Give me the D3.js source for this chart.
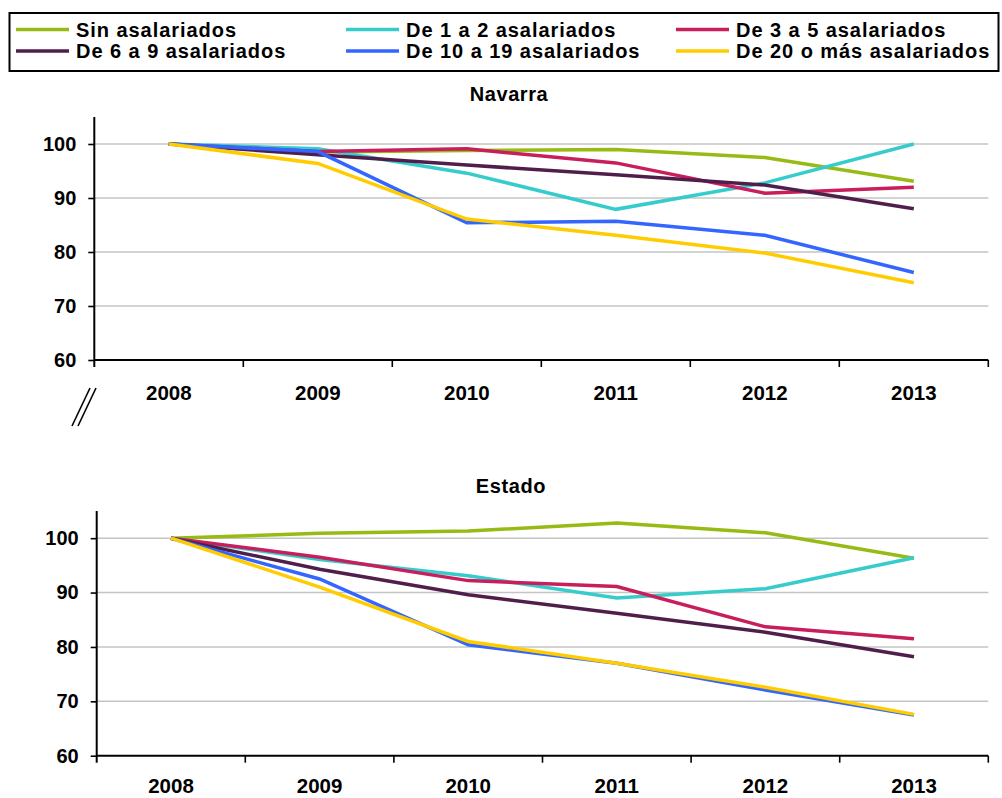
<!DOCTYPE html>
<html>
<head>
<meta charset="utf-8">
<script src="https://cdn.jsdelivr.net/npm/d3@7"></script>
<style>
  html, body { margin: 0; padding: 0; background: #ffffff; }
  svg { display: block; font-family: "Liberation Sans", Arial, sans-serif; font-weight: bold; }
</style>
</head>
<body>
<svg id="chart" width="1002" height="798"></svg>
<script>
// ---- data ----
const years = ["2008", "2009", "2010", "2011", "2012", "2013"];
const seriesNames = ["Sin asalariados", "De 1 a 2 asalariados", "De 3 a 5 asalariados",
                     "De 6 a 9 asalariados", "De 10 a 19 asalariados", "De 20 o más asalariados"];
const yTicks = [60, 70, 80, 90, 100];

// Navarra (índice 2008 = 100)
const navarraSin   = [100, 98.5, 98.8, 99.0, 97.5, 93.1];
const navarra1a2   = [100, 99.1, 94.6, 87.9, 92.8, 100.0];
const navarra3a5   = [100, 98.6, 99.1, 96.5, 90.9, 92.0];
const navarra6a9   = [100, 98.0, 96.1, 94.3, 92.4, 88.0];
const navarra10a19 = [100, 98.6, 85.4, 85.7, 83.1, 76.2];
const navarra20mas = [100, 96.4, 86.1, 83.1, 79.8, 74.3];

// Estado (índice 2008 = 100)
const estadoSin   = [100, 100.9, 101.3, 102.8, 101.0, 96.3];
const estado1a2   = [100, 96.1, 93.1, 89.0, 90.7, 96.4];
const estado3a5   = [100, 96.5, 92.2, 91.1, 83.7, 81.5];
const estado6a9   = [100, 94.3, 89.6, 86.2, 82.7, 78.2];
const estado10a19 = [100, 92.5, 80.4, 77.0, 72.1, 67.5];
const estado20mas = [100, 91.0, 81.0, 77.0, 72.6, 67.6];

const colors = ["#97bb14", "#36cccc", "#c81e5c", "#4f1e4b", "#3366ff", "#ffcc00"];

// ---- drawing ----
const svg = d3.select("#chart");

// Legend
const legend = svg.append("g");
legend.append("rect")
  .attr("x", 9.5).attr("y", 13).attr("width", 989).attr("height", 58)
  .attr("fill", "none").attr("stroke", "#000").attr("stroke-width", 2);
const legCols = [16, 346, 676];
const legRows = [29.5, 51];
seriesNames.forEach((name, i) => {
  const cx = legCols[i % 3], cy = legRows[Math.floor(i / 3)];
  legend.append("line")
    .attr("x1", cx).attr("x2", cx + 53).attr("y1", cy).attr("y2", cy)
    .attr("stroke", colors[i]).attr("stroke-width", 3.5);
  legend.append("text")
    .attr("x", cx + 60).attr("y", cy + 7)
    .attr("font-size", 20).attr("letter-spacing", "0.95px")
    .attr("fill", "#000")
    .text(name);
});

function drawPanel(cfg) {
  const g = svg.append("g");
  const x = d3.scaleBand().domain(years).range([cfg.left, cfg.right]);
  const y = d3.scaleLinear().domain([60, 105]).range([cfg.bottom, cfg.top]);

  // title
  g.append("text")
    .attr("x", cfg.titleX).attr("y", cfg.titleY)
    .attr("text-anchor", "middle")
    .attr("font-size", 20).attr("letter-spacing", "0.6px")
    .text(cfg.title);

  // gridlines
  g.append("g").selectAll("line").data(yTicks.filter(d => d > 60)).join("line")
    .attr("x1", cfg.left).attr("x2", cfg.right)
    .attr("y1", d => y(d)).attr("y2", d => y(d))
    .attr("stroke", "#c4c4c4").attr("stroke-width", 1.6);

  // y axis
  const yAxis = d3.axisLeft(y).tickValues(yTicks).tickSize(6).tickPadding(12);
  const ya = g.append("g").attr("transform", `translate(${cfg.left},0)`).call(yAxis);
  ya.select(".domain").remove();
  ya.selectAll(".tick line").attr("stroke", "#000").attr("stroke-width", 1.6);
  ya.selectAll(".tick text").attr("font-size", 20).attr("font-family", "Liberation Sans, Arial, sans-serif")
    .attr("font-weight", "bold").attr("fill", "#000");
  g.append("line")
    .attr("x1", cfg.left).attr("x2", cfg.left)
    .attr("y1", cfg.top).attr("y2", cfg.bottom + 7)
    .attr("stroke", "#000").attr("stroke-width", 2);

  // x axis: ticks at band boundaries, labels at band centers
  const bounds = years.map(d => x(d)).concat([cfg.right]);
  g.append("line")
    .attr("x1", cfg.left).attr("x2", cfg.right)
    .attr("y1", cfg.bottom).attr("y2", cfg.bottom)
    .attr("stroke", "#000").attr("stroke-width", 2);
  g.append("g").selectAll("line").data(bounds.slice(1)).join("line")
    .attr("x1", d => d).attr("x2", d => d)
    .attr("y1", cfg.bottom).attr("y2", cfg.bottom + 7)
    .attr("stroke", "#000").attr("stroke-width", 1.6);
  g.append("g").selectAll("text").data(years).join("text")
    .attr("x", d => x(d) + x.bandwidth() / 2)
    .attr("y", cfg.bottom + cfg.yearOffset)
    .attr("text-anchor", "middle")
    .attr("font-size", 20.5)
    .text(d => d);

  // series
  const line = d3.line()
    .x((d, i) => x(years[i]) + x.bandwidth() / 2)
    .y(d => y(d));
  cfg.series.forEach((vals, i) => {
    g.append("path")
      .attr("d", line(vals))
      .attr("fill", "none")
      .attr("stroke", colors[i])
      .attr("stroke-width", 3.5)
      .attr("stroke-linejoin", "miter");
  });
  return g;
}

drawPanel({
  title: "Navarra", titleX: 509, titleY: 100.5,
  left: 94.3, right: 988.3, top: 117, bottom: 360, yearOffset: 40,
  series: [navarraSin, navarra1a2, navarra3a5, navarra6a9, navarra10a19, navarra20mas]
});

drawPanel({
  title: "Estado", titleX: 511, titleY: 493.3,
  left: 96.7, right: 988.3, top: 511, bottom: 755.7, yearOffset: 37.3,
  series: [estadoSin, estado1a2, estado3a5, estado6a9, estado10a19, estado20mas]
});

// axis break marks "//"
svg.append("g").selectAll("line").data([0, 6]).join("line")
  .attr("x1", d => 90 + d).attr("y1", 388)
  .attr("x2", d => 72 + d).attr("y2", 426)
  .attr("stroke", "#000").attr("stroke-width", 1.6);
</script>
</body>
</html>
